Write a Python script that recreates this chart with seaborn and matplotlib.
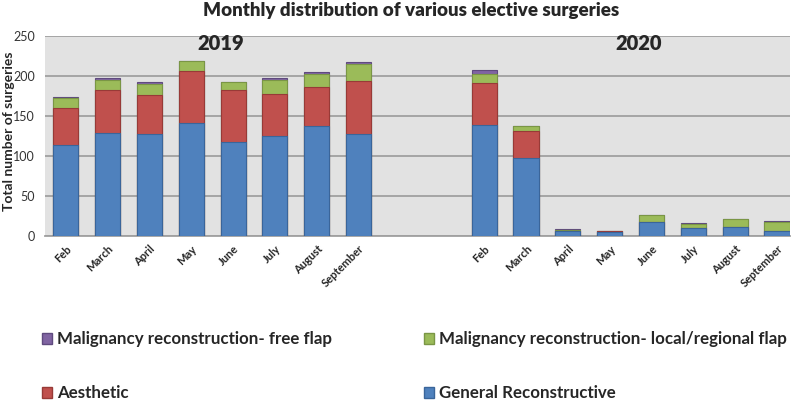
import matplotlib
matplotlib.use("Agg")
import matplotlib.pyplot as plt
import matplotlib.patches as mpatches
import seaborn as sns
import pandas as pd

sns.set_theme(style="white")
plt.rcParams['font.family'] = ['Lato', 'DejaVu Sans']

months = ["Feb", "March", "April", "May", "June", "July", "August", "September"]
years = ["2019", "2020"]

# values per series, 2019 then 2020
general_2019 = [114, 129, 128, 141, 117, 125, 137, 127]
aesthetic_2019 = [46, 53, 48, 65, 65, 52, 49, 67]
local_2019 = [12, 13, 14, 13, 10, 18, 16, 21]
free_2019 = [2, 2, 2, 0, 0, 3, 3, 2]

general_2020 = [139, 98, 7, 5, 18, 10, 12, 6]
aesthetic_2020 = [52, 33, 0, 1, 0, 0, 0, 0]
local_2020 = [12, 6, 1, 0, 8, 5, 9, 12]
free_2020 = [4, 0, 1, 1, 0, 1, 0, 1]

series_names = ["General Reconstructive", "Aesthetic",
                "Malignancy reconstruction- local/regional flap",
                "Malignancy reconstruction- free flap"]
colors = {"General Reconstructive": "#4F81BD", "Aesthetic": "#C0504D",
          "Malignancy reconstruction- local/regional flap": "#9BBB59",
          "Malignancy reconstruction- free flap": "#8064A2"}
edges = {"General Reconstructive": "#3A659A", "Aesthetic": "#983A37",
         "Malignancy reconstruction- local/regional flap": "#7A9645",
         "Malignancy reconstruction- free flap": "#5F4A7E"}

rows = []
for yr, vals in zip(years, [(general_2019, aesthetic_2019, local_2019, free_2019),
                            (general_2020, aesthetic_2020, local_2020, free_2020)]):
    for i, m in enumerate(months):
        for name, v in zip(series_names, vals):
            rows.append({"key": f"{yr}-{m}", "series": name, "value": v[i]})
df = pd.DataFrame(rows)
# cumulative heights for stacking
df["cum"] = df.groupby("key")["value"].cumsum()

order = [f"2019-{m}" for m in months] + ["gap1", "gap2"] + [f"2020-{m}" for m in months]

fig = plt.figure(figsize=(8, 4.03), dpi=100)
ax = fig.add_axes([0.056, 0.414, 0.931, 0.497])
ax.set_facecolor("#E2E2E2")

for name in reversed(series_names):
    sub = df[df["series"] == name]
    sns.barplot(data=sub, x="key", y="cum", order=order, color=colors[name],
                width=0.6, saturation=1, edgecolor=edges[name], linewidth=0.8,
                ax=ax, zorder=3)

ax.set_ylim(0, 250)
ax.set_yticks(range(0, 251, 50))
ax.set_xlim(-0.5, 17.3)
ax.yaxis.grid(True, color="#A0A0A0", linewidth=1.3, zorder=0)
ax.set_axisbelow(True)
for s in ["top", "right", "left"]:
    ax.spines[s].set_visible(False)
ax.spines["bottom"].set_color("#A0A0A0")
ax.spines["bottom"].set_linewidth(1.3)

labels = months + ["", ""] + months
ax.set_xticks(range(len(order)))
ax.set_xticklabels(labels, rotation=45, ha="right", rotation_mode="anchor",
                   fontsize=8, fontweight="bold")
ax.tick_params(axis="y", labelsize=9, length=0, pad=7, labelcolor="#333333")
ax.tick_params(axis="x", length=0, pad=5)
ax.set_xlabel("")
ax.set_ylabel("Total number of surgeries", fontsize=10, fontweight="bold")
ax.yaxis.set_label_coords(-0.040, 0.525)

ax.text(3.7, 240, "2019", ha="center", va="center", fontsize=14.5, fontweight="heavy")
ax.text(13.68, 240, "2020", ha="center", va="center", fontsize=14.5, fontweight="heavy")

fig.suptitle("Monthly distribution of various elective surgeries", x=0.514, y=0.995,
             fontsize=13.5, fontweight="heavy")

legend_kw = dict(frameon=False, prop={"weight": "bold", "size": 12.2}, handlelength=0.6,
                 handleheight=0.6, handletextpad=0.3, labelspacing=2.25,
                 loc="center left", borderpad=0.4)
left_names = ["Malignancy reconstruction- free flap", "Aesthetic"]
right_names = ["Malignancy reconstruction- local/regional flap", "General Reconstructive"]
fig.legend(handles=[mpatches.Patch(facecolor=colors[n], edgecolor=edges[n], label=n)
                    for n in left_names],
           bbox_to_anchor=(0.033, 0.091), **legend_kw)
fig.legend(handles=[mpatches.Patch(facecolor=colors[n], edgecolor=edges[n], label=n)
                    for n in right_names],
           bbox_to_anchor=(0.511, 0.091), **legend_kw)

fig.savefig("out.png", dpi=100)
